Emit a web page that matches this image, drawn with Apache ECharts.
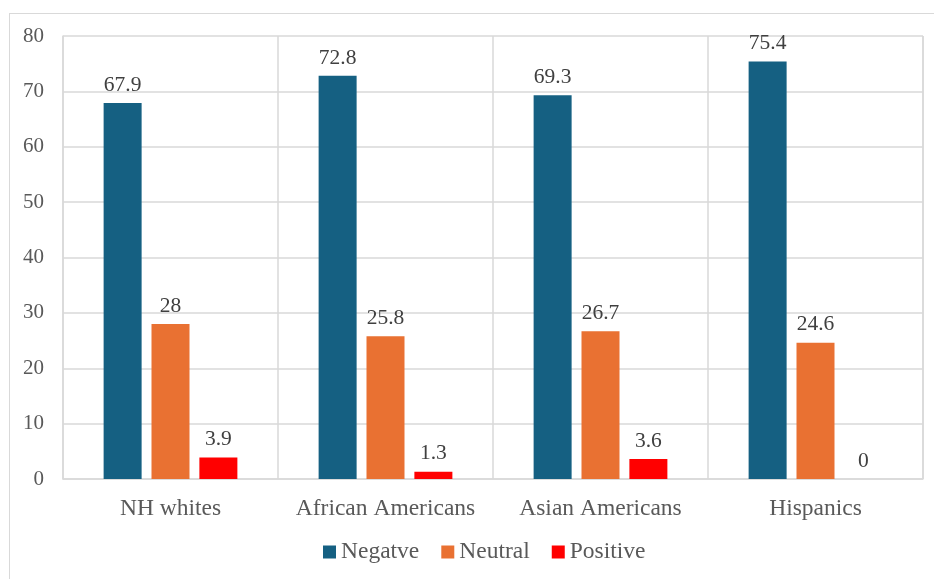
<!DOCTYPE html>
<html><head><meta charset="utf-8">
<script src="https://cdn.jsdelivr.net/npm/echarts@6/dist/echarts.min.js"></script>
<style>
html,body{margin:0;padding:0;background:#fff;}
#wrap{position:absolute;left:0;top:0;width:934px;height:579px;overflow:hidden;}
#frame{position:absolute;left:9px;top:13px;width:930px;height:600px;border:1.5px solid #d9d9d9;box-sizing:border-box;}
#c{position:absolute;left:0;top:0;width:934px;height:579px;}
</style></head>
<body><div id="wrap"><div id="frame"></div><div id="c"></div></div>
<script>
const categories = ['NH whites','African Americans','Asian Americans','Hispanics'];
const negative = [67.9, 72.8, 69.3, 75.4];
const neutral = [28, 25.8, 26.7, 24.6];
const positive = [3.9, 1.3, 3.6, 0];
const yTicks = {min:0, max:80, interval:10};

const font = '"Liberation Serif","Times New Roman",serif';
const chart = echarts.init(document.getElementById('c'));
const lbl = {show:true, position:'top', distance:7, color:'#404040', fontFamily:font, fontSize:21.5};
chart.setOption({
  animation:false,
  grid:{left:63, right:11, top:36, bottom:100, containLabel:false},
  legend:{bottom:10, left:318, itemWidth:13, itemHeight:13, itemGap:22, icon:'rect',
    textStyle:{fontFamily:font, fontSize:23.5, color:'#595959'},
    data:['Negatve','Neutral','Positive']},
  xAxis:{type:'category', data:categories,
    axisLine:{show:true, lineStyle:{color:'#d9d9d9', width:1.5}},
    axisTick:{show:false},
    axisLabel:{color:'#595959', fontFamily:font, fontSize:23.5, margin:18, interval:0},
    splitLine:{show:true, interval:0, lineStyle:{color:'#d9d9d9', width:1.5}}},
  yAxis:{type:'value', min:yTicks.min, max:yTicks.max, interval:yTicks.interval,
    axisLine:{show:true, lineStyle:{color:'#d9d9d9', width:1.5}},
    axisTick:{show:false},
    axisLabel:{color:'#595959', fontFamily:font, fontSize:21, margin:19},
    splitLine:{lineStyle:{color:'#d9d9d9', width:1.5}}},
  series:[
    {name:'Negatve', type:'bar', data:negative, barWidth:38, barGap:'26%', itemStyle:{color:'#156082'}, label:lbl},
    {name:'Neutral', type:'bar', data:neutral, barWidth:38, barGap:'26%', itemStyle:{color:'#E97132'}, label:lbl},
    {name:'Positive', type:'bar', data:positive, barWidth:38, barGap:'26%', itemStyle:{color:'#FF0000'}, label:lbl}
  ],
  graphic:[{type:'rect', shape:{x:923, y:36, width:0, height:443}, style:{stroke:'#d9d9d9', lineWidth:1.5, fill:null}}]
});
</script></body></html>
